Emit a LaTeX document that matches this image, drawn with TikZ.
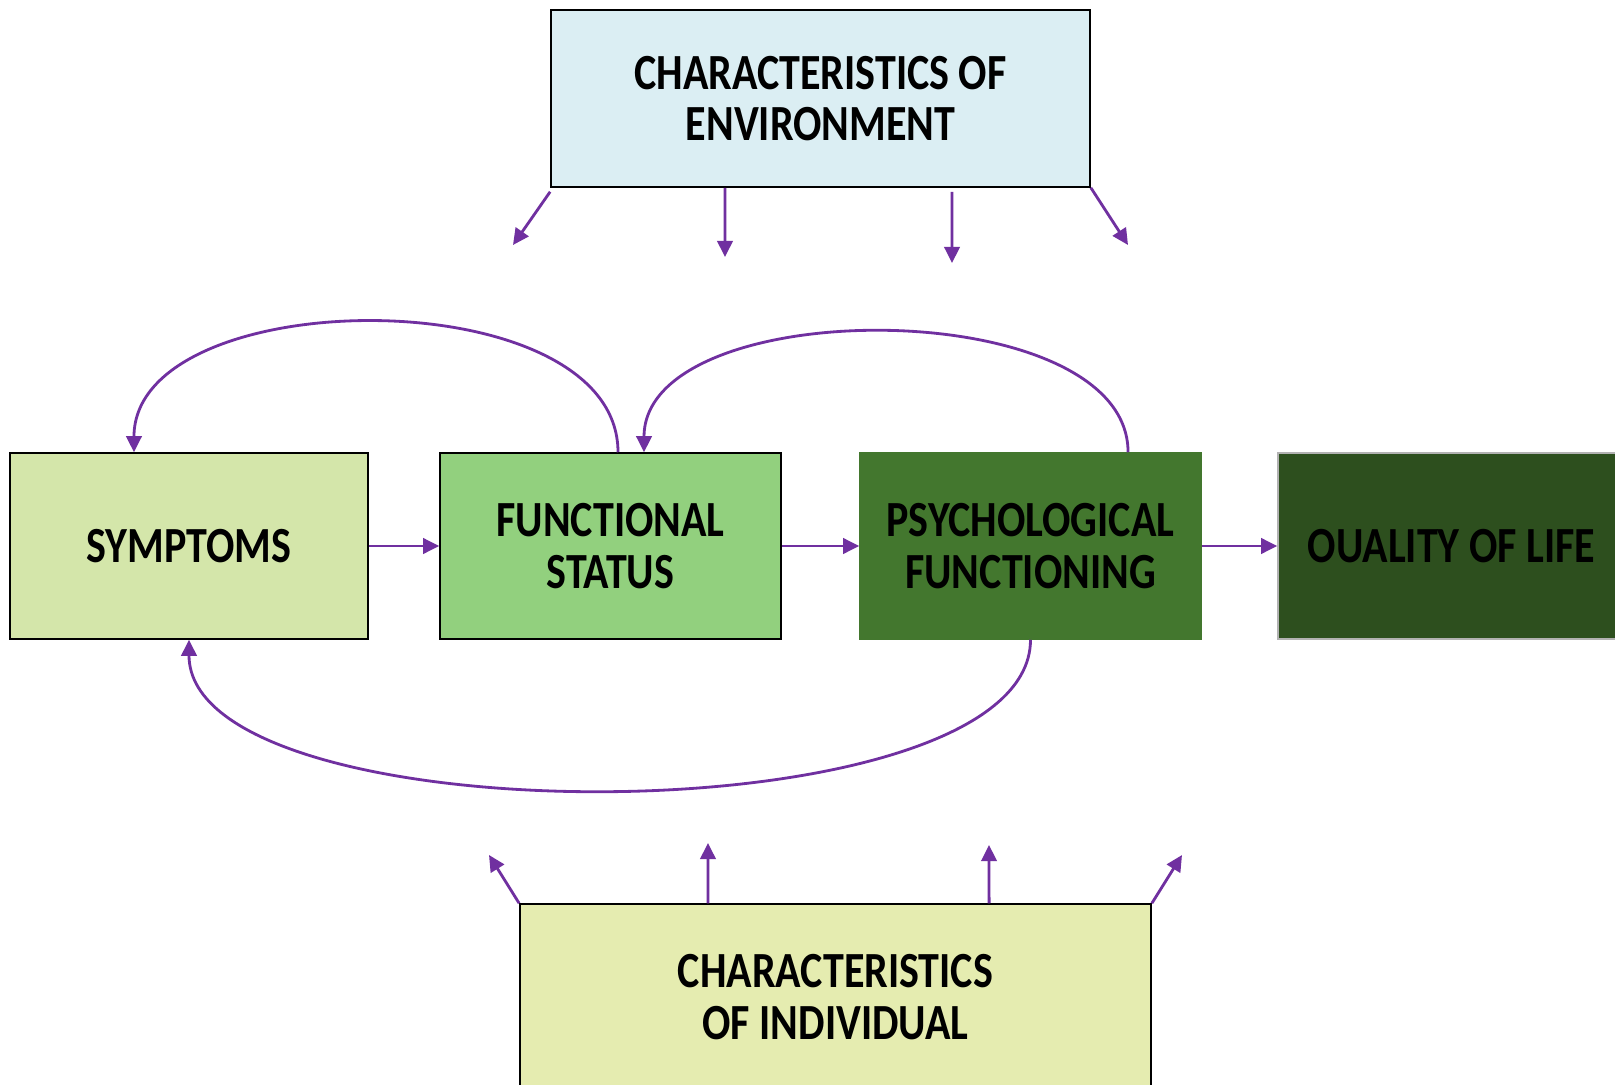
\documentclass[tikz,border=0pt]{standalone}
\usepackage{fontspec}
\setmainfont{Carlito}[FakeStretch=0.83]
\usepackage{tikz}
\usetikzlibrary{arrows.meta}
\definecolor{linkpurple}{HTML}{7030A0}
\definecolor{envblue}{HTML}{DBEEF3}
\definecolor{symgreen}{HTML}{D4E6AA}
\definecolor{funcgreen}{HTML}{92D07E}
\definecolor{psygreen}{HTML}{43772E}
\definecolor{qolgreen}{HTML}{2D4F1E}
\definecolor{indgreen}{HTML}{E5ECB0}

\begin{document}
\begin{tikzpicture}[x=0.01cm,y=-0.01cm,
  box/.style={rectangle,draw=black,line width=0.4pt,inner sep=0pt,align=center,
    font=\fontsize{14.4}{14.7}\selectfont\bfseries},
  link/.style={draw=linkpurple,line width=0.8pt,-{Triangle[length=4.6pt,width=4.4pt]}}]
\clip (0,0) rectangle (1615,1085);
\fill[white] (0,0) rectangle (1615,1085);
\node[box,fill=envblue,minimum width=5.39cm,minimum height=1.77cm] (env) at (820.5,98.5) {CHARACTERISTICS OF\\ENVIRONMENT};
\node[box,fill=symgreen,minimum width=3.58cm,minimum height=1.86cm] (sym) at (189,546) {SYMPTOMS};
\node[box,fill=funcgreen,minimum width=3.41cm,minimum height=1.86cm] (func) at (610.5,546) {FUNCTIONAL\\STATUS};
\node[box,draw=psygreen,fill=psygreen,minimum width=3.41cm,minimum height=1.86cm] (psy) at (1030.5,546) {PSYCHOLOGICAL\\FUNCTIONING};
\node[box,draw=gray!60,fill=qolgreen,minimum width=3.47cm,minimum height=1.86cm] (qol) at (1451.5,546) {OUALITY OF LIFE};
\node[box,fill=indgreen,minimum width=6.31cm,minimum height=1.86cm] (ind) at (835.5,997) {CHARACTERISTICS\\OF INDIVIDUAL};
% free ends of the outer arrows
\coordinate (e1) at (513,245);
\coordinate (e2) at (725,257);
\coordinate (e3) at (952,263);
\coordinate (e4) at (1128,245);
\coordinate (i1) at (489,855);
\coordinate (i2) at (708,843);
\coordinate (i3) at (989,845);
\coordinate (i4) at (1182,855);
% main chain
\draw[link] (sym.east) -- (func.west);
\draw[link] (func.east) -- (psy.west);
\draw[link] (psy.east) -- (qol.west);
% feedback loops
\draw[link] ([xshift=0.075cm]func.north) .. controls +(0,-175) and +(0,-171) .. ([xshift=-0.55cm]sym.north);
\draw[link] ([xshift=0.975cm]psy.north) .. controls +(0,-160) and +(0,-160) .. ([xshift=0.335cm]func.north);
\draw[link] (psy.south) .. controls +(0,200) and +(0,200) .. (sym.south);
% environment
\draw[link] ([yshift=-0.04cm]env.south west) -- (e1);
\draw[link] ([xshift=-0.955cm]env.south) -- (e2);
\draw[link] ([xshift=1.315cm,yshift=-0.04cm]env.south) -- (e3);
\draw[link] (env.south east) -- (e4);
% individual
\draw[link] (ind.north west) -- (i1);
\draw[link] ([xshift=-1.275cm]ind.north) -- (i2);
\draw[link] ([xshift=1.535cm]ind.north) -- (i3);
\draw[link] (ind.north east) -- (i4);
\end{tikzpicture}
\end{document}
